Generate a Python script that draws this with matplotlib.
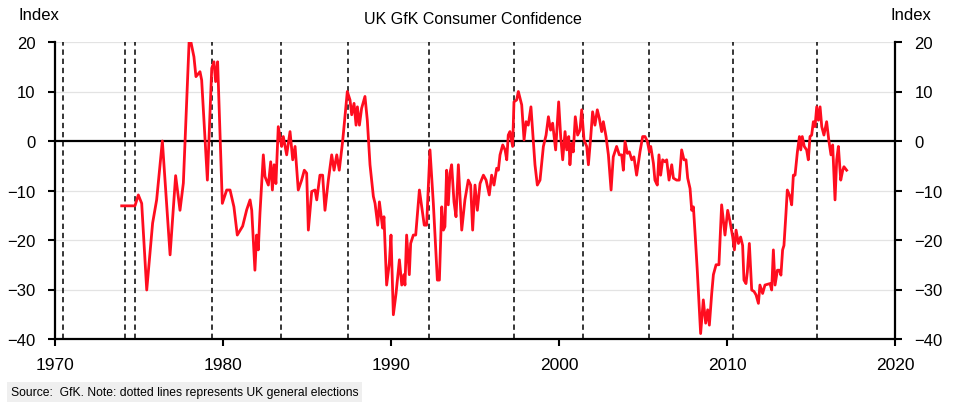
#!/usr/bin/env python
import numpy as np
import matplotlib
matplotlib.use("Agg")
import matplotlib.pyplot as plt

plt.rcParams["font.family"] = ["Liberation Sans", "DejaVu Sans"]

# GfK consumer confidence index (decimal year, index)
years = [
    1973.97, 1974.76, 1974.96, 1975.16, 1975.46, 1975.81, 1976.05, 1976.39, 1976.85, 1977.18,
    1977.44, 1977.64, 1978.0, 1978.27, 1978.39, 1978.63, 1978.73, 1979.07, 1979.33, 1979.46,
    1979.56, 1979.68, 1979.96, 1980.22, 1980.42, 1980.65, 1980.85, 1981.17, 1981.41, 1981.61,
    1981.71, 1981.9, 1982.0, 1982.1, 1982.2, 1982.4, 1982.5, 1982.7, 1982.84, 1982.94,
    1983.04, 1983.15, 1983.29, 1983.49, 1983.59, 1983.79, 1983.99, 1984.15, 1984.29, 1984.48,
    1984.68, 1984.84, 1984.98, 1985.08, 1985.28, 1985.48, 1985.58, 1985.77, 1985.93, 1986.07,
    1986.27, 1986.47, 1986.61, 1986.77, 1986.92, 1987.12, 1987.26, 1987.4, 1987.56, 1987.66,
    1987.8, 1987.92, 1988.0, 1988.12, 1988.25, 1988.45, 1988.59, 1988.75, 1988.95, 1989.05,
    1989.21, 1989.31, 1989.5, 1989.58, 1989.74, 1989.9, 1990.0, 1990.14, 1990.3, 1990.5,
    1990.64, 1990.77, 1990.83, 1990.93, 1991.09, 1991.17, 1991.33, 1991.47, 1991.69, 1991.83,
    1991.98, 1992.12, 1992.32, 1992.52, 1992.62, 1992.76, 1992.88, 1993.02, 1993.12, 1993.21,
    1993.31, 1993.41, 1993.51, 1993.61, 1993.75, 1993.87, 1994.01, 1994.21, 1994.4, 1994.6,
    1994.74, 1994.86, 1995.0, 1995.14, 1995.3, 1995.5, 1995.66, 1995.85, 1995.99, 1996.13,
    1996.29, 1996.39, 1996.49, 1996.65, 1996.79, 1996.89, 1996.98, 1997.08, 1997.24, 1997.32,
    1997.48, 1997.58, 1997.78, 1997.92, 1998.04, 1998.17, 1998.33, 1998.47, 1998.57, 1998.71,
    1998.87, 1999.07, 1999.23, 1999.37, 1999.5, 1999.62, 1999.8, 1999.98, 2000.1, 2000.22,
    2000.36, 2000.46, 2000.58, 2000.65, 2000.75, 2000.85, 2000.97, 2001.11, 2001.25, 2001.35,
    2001.49, 2001.65, 2001.75, 2001.89, 2002.0, 2002.14, 2002.28, 2002.4, 2002.54, 2002.64,
    2002.8, 2002.94, 2003.1, 2003.23, 2003.43, 2003.59, 2003.73, 2003.83, 2003.93, 2004.07,
    2004.19, 2004.33, 2004.46, 2004.62, 2004.82, 2004.98, 2005.12, 2005.26, 2005.38, 2005.46,
    2005.62, 2005.71, 2005.85, 2005.95, 2006.05, 2006.17, 2006.31, 2006.41, 2006.55, 2006.71,
    2006.81, 2007.0, 2007.16, 2007.3, 2007.44, 2007.56, 2007.66, 2007.8, 2007.9, 2008.0,
    2008.1, 2008.23, 2008.43, 2008.59, 2008.73, 2008.85, 2008.95, 2009.09, 2009.19, 2009.35,
    2009.52, 2009.68, 2009.88, 2010.04, 2010.18, 2010.34, 2010.44, 2010.54, 2010.68, 2010.81,
    2010.93, 2011.01, 2011.13, 2011.21, 2011.33, 2011.47, 2011.61, 2011.73, 2011.87, 2011.96,
    2012.12, 2012.26, 2012.56, 2012.66, 2012.76, 2012.86, 2013.0, 2013.12, 2013.21, 2013.31,
    2013.39, 2013.51, 2013.59, 2013.75, 2013.85, 2013.95, 2014.05, 2014.19, 2014.31, 2014.39,
    2014.48, 2014.6, 2014.74, 2014.84, 2014.94, 2015.04, 2015.14, 2015.24, 2015.34, 2015.44,
    2015.54, 2015.64, 2015.77, 2015.93, 2016.07, 2016.19, 2016.29, 2016.43, 2016.53, 2016.63,
    2016.77, 2016.89, 2016.96, 2017.12,
]
confidence = [
    -13.1, -13.1, -10.9, -12.6, -30.1, -16.6, -11.9, 0.0, -23.0, -7.0,
    -14.0, -8.5, 21.5, 17.0, 13.0, 14.0, 12.3, -7.9, 14.7, 16.0,
    12.0, 16.0, -12.6, -9.9, -9.9, -13.3, -19.0, -17.2, -13.9, -11.9,
    -14.0, -26.1, -19.0, -22.0, -14.6, -2.8, -7.2, -8.9, -4.2, -9.9,
    -4.8, -8.6, 2.9, -1.1, 0.9, -2.8, 1.9, -3.8, -1.1, -9.9,
    -7.9, -5.9, -6.5, -18.0, -10.2, -9.9, -11.9, -6.9, -6.9, -14.0,
    -7.9, -2.8, -5.9, -2.8, -5.9, -0.1, 4.9, 10.0, 8.3, 5.3,
    7.6, 3.2, 6.9, 3.2, 6.6, 9.0, 4.2, -4.8, -11.2, -12.6,
    -17.0, -12.3, -17.6, -15.3, -29.1, -24.7, -19.0, -35.1, -30.8, -24.0,
    -29.1, -27.0, -29.1, -19.0, -27.0, -20.7, -19.0, -19.0, -9.9, -13.3,
    -17.0, -17.0, -1.8, -12.6, -19.0, -28.1, -28.1, -13.3, -18.0, -17.3,
    -5.9, -12.9, -6.5, -4.8, -12.3, -15.3, -4.8, -18.0, -11.9, -7.9,
    -8.9, -18.0, -8.9, -14.0, -8.6, -6.9, -7.9, -10.9, -6.9, -8.9,
    -5.5, -5.9, -2.8, -0.8, -1.8, -3.8, 1.2, 1.9, -1.1, 7.9,
    8.3, 10.0, 7.3, 0.2, 3.9, 3.2, 6.9, 0.2, -4.8, -8.9,
    -7.9, -1.1, 1.2, 4.9, 2.2, 3.6, -1.8, 7.9, 0.9, -3.8,
    1.9, -1.8, 0.9, -4.8, -0.5, -2.2, 4.9, 1.2, 2.2, 6.3,
    0.2, -1.1, -4.8, 0.9, 5.9, 3.2, 6.3, 4.6, 1.9, 3.9,
    0.9, -2.8, -9.9, -3.2, -1.1, -2.8, -2.8, -5.9, -0.1, -2.5,
    -2.2, -3.8, -3.2, -6.9, -2.2, 0.9, 0.9, -0.1, -2.2, -1.1,
    -4.5, -7.9, -8.9, -2.8, -6.9, -3.8, -4.2, -3.8, -7.9, -4.8,
    -7.5, -7.9, -7.9, -1.8, -3.8, -3.8, -7.5, -9.6, -14.0, -13.3,
    -18.7, -26.1, -38.9, -32.1, -36.8, -34.1, -37.2, -30.8, -27.0, -25.0,
    -25.0, -12.9, -19.0, -14.0, -16.3, -19.4, -22.0, -18.0, -20.7, -19.4,
    -21.1, -28.1, -28.8, -26.5, -20.7, -30.1, -30.4, -31.1, -32.8, -29.1,
    -30.8, -29.1, -28.8, -30.1, -22.0, -29.1, -26.1, -26.1, -27.1, -22.0,
    -21.1, -14.6, -9.9, -11.2, -12.9, -6.9, -6.9, -2.2, 0.9, -1.8,
    0.9, -1.1, -1.8, -3.8, 0.9, 1.2, 3.9, 2.9, 6.9, 4.2,
    6.9, 2.9, 1.2, 3.9, -0.1, -2.8, -0.8, -11.9, -3.8, -1.1,
    -7.9, -5.9, -5.2, -5.9,
]

# UK general elections (decimal year)
elections = [1970.46, 1974.16, 1974.77, 1979.34, 1983.44, 1987.44,
             1992.27, 1997.33, 2001.43, 2005.34, 2010.34, 2015.35]

x_ticks = [1970, 1980, 1990, 2000, 2010, 2020]
y_ticks = [-40, -30, -20, -10, 0, 10, 20]

fig = plt.figure(figsize=(9.6, 4.1), dpi=100)
ax = fig.add_axes([55 / 960, 1 - 340 / 410, 840 / 960, 297 / 410])

# light horizontal grid
for y in y_ticks[1:]:
    if y != 0:
        ax.axhline(y, color="#e3e3e3", lw=0.9, zorder=0)
ax.axhline(0, color="black", lw=1.6, zorder=2)

# election markers
for e in elections:
    ax.axvline(e, color="black", lw=1.1, ls=(0, (3.5, 2.5)), zorder=1)

ax.plot(years, confidence, color="#ff0d1f", lw=2.0, zorder=3)

ax.set_xlim(1970, 2020)
ax.set_ylim(-40, 20)
ax.set_xticks(x_ticks)
ax.set_yticks(y_ticks)
ax.tick_params(axis="x", direction="out", length=5, width=1.5, pad=8, labelsize=12.5)
ax.tick_params(axis="y", direction="out", length=5, width=1.5, pad=9, labelsize=12,
               left=True, right=True, labelleft=True, labelright=True)

for side in ["left", "right", "bottom"]:
    ax.spines[side].set_linewidth(1.6)
ax.spines["top"].set_visible(False)

fig.text(18 / 960, 1 - 16 / 410, "Index", fontsize=12, va="center", ha="left")
fig.text(931 / 960, 1 - 16 / 410, "Index", fontsize=12, va="center", ha="right")
fig.text(473 / 960, 1 - 20 / 410, "UK GfK Consumer Confidence", fontsize=11.5,
         va="center", ha="center")
fig.text(11 / 960, 1 - 393 / 410,
         "Source:  GfK. Note: dotted lines represents UK general elections",
         fontsize=8.7, va="center", ha="left",
         bbox=dict(facecolor="#efefef", edgecolor="none", pad=2.5))

fig.savefig("out.png", dpi=100)
